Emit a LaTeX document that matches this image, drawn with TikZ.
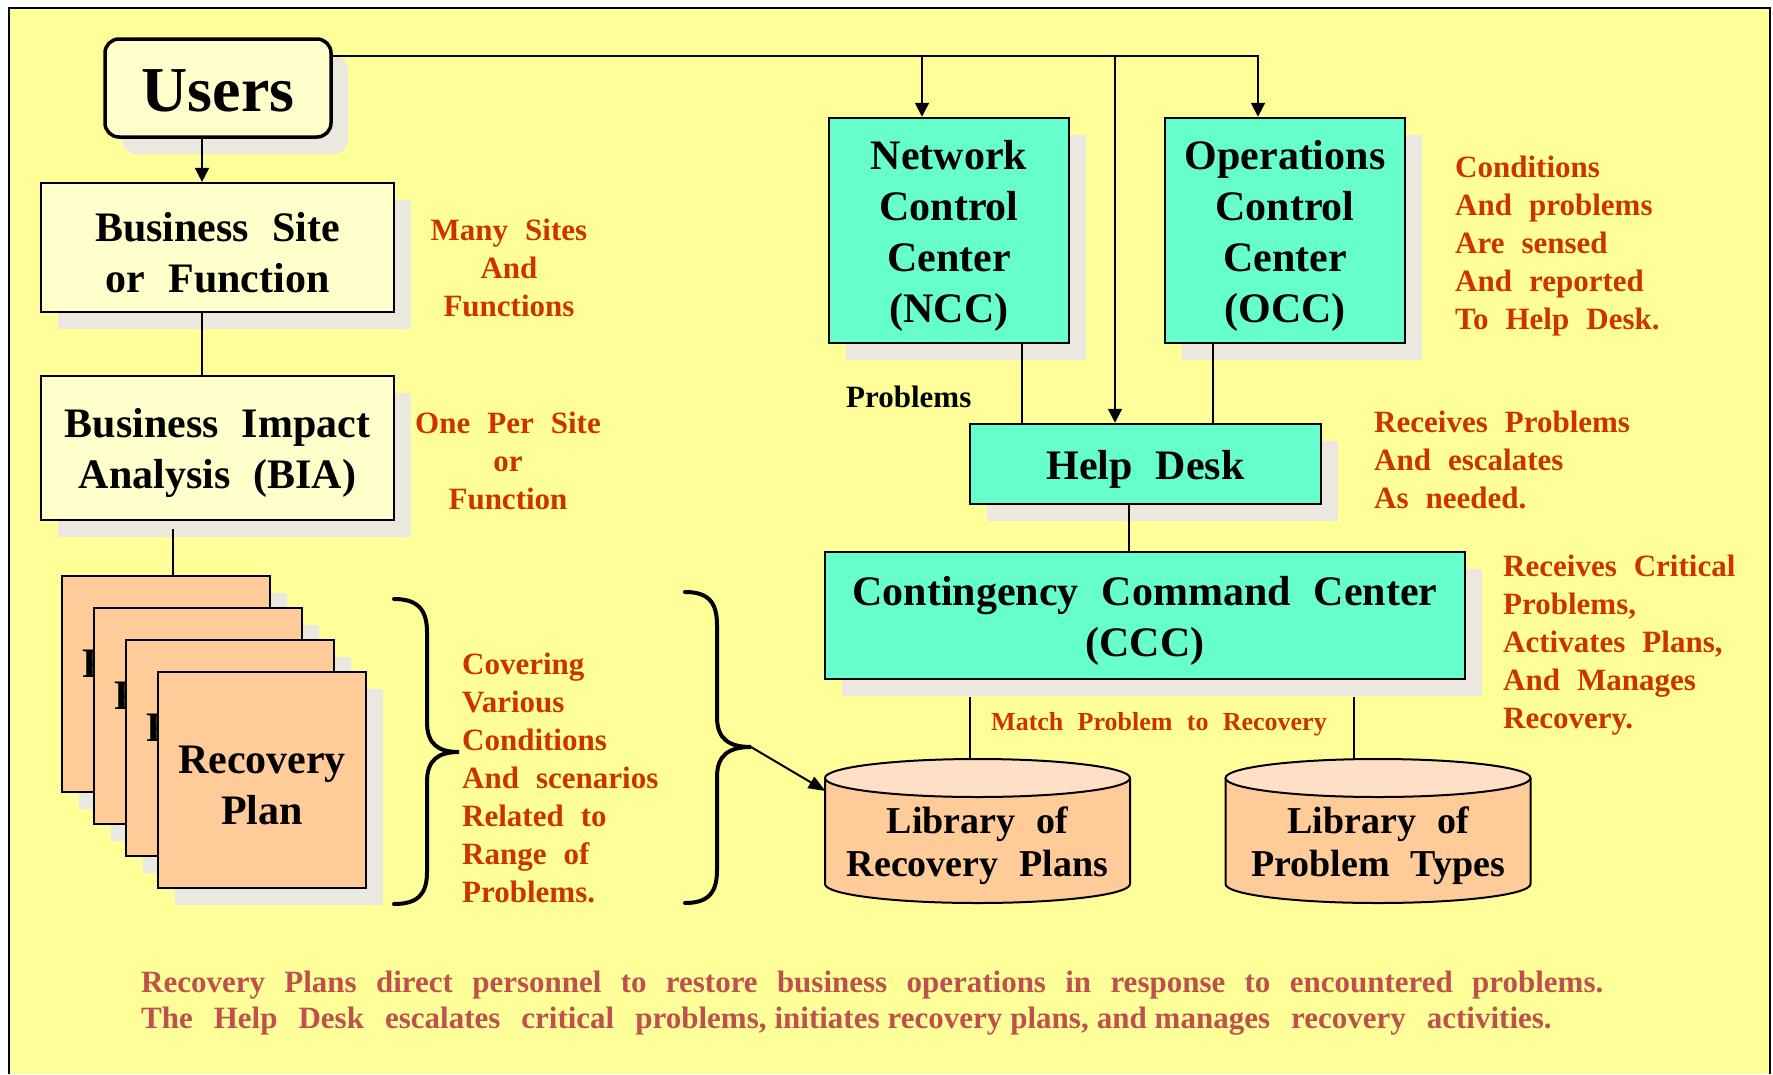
\documentclass[tikz,border=0pt]{standalone}
\usepackage{fontspec}
\setmainfont{Liberation Serif}[WordSpace=2.2]
\usetikzlibrary{arrows.meta,calc,shadows}

\definecolor{bg}{HTML}{FFFF99}
\definecolor{paleY}{HTML}{FFFFCC}
\definecolor{aqua}{HTML}{66FFCC}
\definecolor{peach}{HTML}{FFCC99}
\definecolor{peachtop}{HTML}{FFDFC6}
\definecolor{shade}{HTML}{EBE9DF}
\definecolor{note}{HTML}{CC3300}
\definecolor{rose}{HTML}{C0504D}

% opening strut that lowers box text a little
\newcommand\boxlead{\rule{0pt}{39pt}}

\begin{document}
\begin{tikzpicture}[x=1pt,y=-1pt,
  every node/.style={inner sep=0pt},
  lift/.style={drop shadow={shadow xshift=17pt,shadow yshift=-17pt,fill=shade,opacity=1}},
  boxtext/.style={font=\bfseries\fontsize{42}{51}\selectfont,align=center},
  palebox/.style={boxtext,draw,line width=2.2pt,fill=paleY,lift},
  aquabox/.style={boxtext,draw,line width=2.5pt,fill=aqua,lift},
  planbox/.style={boxtext,draw,line width=2.2pt,fill=peach,lift,
    minimum width=208pt,minimum height=216pt},
  userbox/.style={draw,line width=3.5pt,rounded corners=14pt,fill=paleY,lift,
    font=\bfseries\fontsize{64}{70}\selectfont,minimum width=226pt,minimum height=98pt},
  libtext/.style={font=\bfseries\fontsize{38}{43}\selectfont,align=center},
  remark/.style={text=note,font=\bfseries\fontsize{31}{38}\selectfont},
  summary/.style={text=rose,font=\bfseries\fontsize{31}{36}\selectfont,align=left},
  wire/.style={line width=2pt},
  tip/.style={-{Triangle[length=14pt,width=14pt]}},
  brace/.style={line width=4pt,line cap=round},
  drum/.style={line width=2pt}
]
% page and frame
\fill[white] (0,0) rectangle (1773,1074);
\useasboundingbox (0,0) rectangle (1773,1074);
\fill[bg] (9,8) rectangle (1770,1074);
\draw[line width=2pt] (9,1074) -- (9,8) -- (1770,8) -- (1770,1074);

% left column
\node[userbox] (users) at (218,88) {\rule{0pt}{47pt}Users};
\node[palebox,minimum width=353pt,minimum height=129pt] (site) at (217.5,247.5)
  {\boxlead Business Site\\or Function};
\node[palebox,minimum width=353pt,minimum height=144pt] (bia) at (217.5,448)
  {\boxlead Business Impact\\Analysis (BIA)};
\foreach \k in {1,...,4}
  \node[planbox] (plan\k) at ({134+32*\k},{652+32*\k}) {\boxlead Recovery\\Plan};

% right column
\node[aquabox,minimum width=240pt,minimum height=225pt] (ncc) at (949,230.5)
  {\boxlead Network\\Control\\Center\\(NCC)};
\node[aquabox,minimum width=240pt,minimum height=225pt] (occ) at (1285,230.5)
  {\boxlead Operations\\Control\\Center\\(OCC)};
\node[aquabox,minimum width=351pt,minimum height=80pt] (help) at (1145.5,464)
  {\boxlead Help Desk};
\node[aquabox,minimum width=640pt,minimum height=127pt] (ccc) at (1145,615.5)
  {\boxlead Contingency Command Center\\(CCC)};

% the two library drums
\foreach \cx in {977.5,1378} {
  \fill[peach] ({\cx-152.5},778) -- ({\cx-152.5},884)
    arc[start angle=180,end angle=360,x radius=152.5pt,y radius=19pt]
    -- ({\cx+152.5},778) -- cycle;
  \draw[drum] ({\cx-152.5},778) -- ({\cx-152.5},884)
    arc[start angle=180,end angle=360,x radius=152.5pt,y radius=19pt]
    -- ({\cx+152.5},778);
  \draw[drum,fill=peachtop] (\cx,778) ellipse[x radius=152.5pt,y radius=19pt];
}
\coordinate (lib1top) at (977.5,759);
\coordinate (lib2top) at (1378,759);
\coordinate (lib1w) at (825.5,791);
\node[libtext] (lib1) at (977.5,846) {Library of\\Recovery Plans};
\node[libtext] (lib2) at (1378,846) {Library of\\Problem Types};

% connectors on the left
\draw[wire,tip] ($(users.south)+(-16,0)$) -- ($(site.north)+(-15.5,0)$);
\draw[wire] ($(site.south)+(-15.5,0)$) -- ($(bia.north)+(-15.5,0)$);
\draw[wire] ($(bia.south)+(-44.5,8)$) -- ($(plan1.north)+(7,0)$);

% distribution line from the users
\coordinate (busL) at ($(users.north east)+(0,19)$);
\coordinate (tn) at ($(ncc.north)+(-27,0)$);
\coordinate (th) at ($(help.north)+(-30.5,0)$);
\coordinate (to) at ($(occ.north)+(-27,0)$);
\draw[wire,tip] (busL) -| (to);
\draw[wire,tip] (busL -| tn) -- (tn);
\draw[wire,tip] (busL -| th) -- (th);

% control centres into the help desk and onwards
\coordinate (nb) at ($(ncc.south)+(73,0)$);
\coordinate (ob) at ($(occ.south)+(-72,0)$);
\draw[wire] (nb) -- (nb |- help.north);
\draw[wire] (ob) -- (ob |- help.north);
\draw[wire] ($(help.south)+(-16.5,0)$) -- ($(ccc.north)+(-16,0)$);
\coordinate (m1) at ($(ccc.south)+(-175,17)$);
\coordinate (m2) at ($(ccc.south)+(209,17)$);
\draw[wire] (m1) -- (m1 |- lib1top);
\draw[wire] (m2) -- (m2 |- lib2top);

% braces
\draw[brace] (394,599) .. controls (418,599) and (427,610) .. (427,632)
  -- (427,722) .. controls (427,744) and (438,752) .. (459,752)
  .. controls (438,752) and (427,760) .. (427,782)
  -- (427,872) .. controls (427,894) and (418,904) .. (394,904);
\draw[brace] (685,592) .. controls (709,592) and (717,603) .. (717,625)
  -- (717,717) .. controls (717,739) and (729,747) .. (751,747)
  .. controls (729,747) and (717,755) .. (717,777)
  -- (717,870) .. controls (717,892) and (709,903) .. (685,903);
\coordinate (tip2) at (751,747);
\draw[wire,-{Triangle[length=17pt,width=13pt]}] (tip2) -- (lib1w);

% remarks
\node[remark,align=center,anchor=north] (rSites) at (509,213.4)
  {\strut Many Sites\\And\\Functions};
\node[remark,align=center,anchor=north] (rPer) at (508,406.4)
  {\strut One Per Site\\or\\Function};
\node[remark,align=left,anchor=north west] (rCover) at (462,647.4)
  {\strut Covering\\Various\\Conditions\\And scenarios\\Related to\\Range of\\Problems.};
\node[remark,align=left,anchor=north west] (rCond) at (1455,150.4)
  {\strut Conditions\\And problems\\Are sensed\\And reported\\To Help Desk.};
\node[remark,align=left,anchor=north west] (rHelp) at (1374,405.4)
  {\strut Receives Problems\\And escalates\\As needed.};
\node[remark,align=left,anchor=north west] (rCcc) at (1503,549.4)
  {\strut Receives Critical\\Problems,\\Activates Plans,\\And Manages\\Recovery.};
\node[font=\bfseries\fontsize{31}{38}\selectfont,anchor=base west] (lProb) at (846,407)
  {Problems};
\node[text=note,font=\bfseries\fontsize{26}{30}\selectfont,anchor=base] (lMatch) at (1159,730)
  {Match Problem to Recovery};

% summary lines
\node[summary,anchor=north west] (sum) at (141,966.8)
  {\strut\spaceskip=19.3pt Recovery Plans direct personnel to restore business operations in response to encountered problems.\\
   \spaceskip=21pt The Help Desk escalates critical problems,\hspace{8pt}initiates\hspace{8pt}recovery\hspace{8pt}plans,\hspace{8pt}and\hspace{8pt}manages recovery activities.};
\end{tikzpicture}
\end{document}
